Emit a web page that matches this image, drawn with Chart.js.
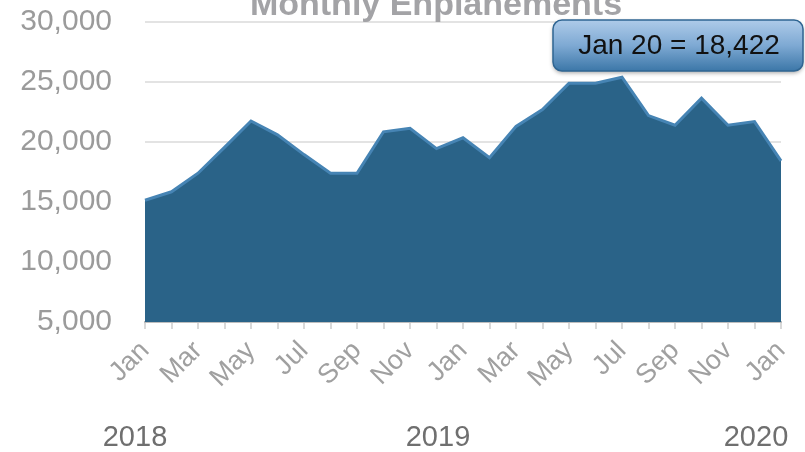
<!DOCTYPE html>
<html>
<head>
<meta charset="utf-8">
<script src="https://cdn.jsdelivr.net/npm/chart.js@4/dist/chart.umd.min.js"></script>
<style>
  html, body { margin: 0; padding: 0; background: #fff; }
  #wrap { width: 805px; height: 452px; position: relative; }
</style>
</head>
<body>
<div id="wrap"><canvas id="chart" width="805" height="452"></canvas></div>
<script>
var months = ['Jan','Feb','Mar','Apr','May','Jun','Jul','Aug','Sep','Oct','Nov','Dec',
              'Jan','Feb','Mar','Apr','May','Jun','Jul','Aug','Sep','Oct','Nov','Dec','Jan'];
var enplanements = [15150, 15850, 17400, 19550, 21750, 20600, 18950, 17400, 17400, 20850, 21150, 19450,
                    20350, 18700, 21300, 22700, 24900, 24900, 25400, 22200, 21400, 23650, 21400, 21700, 18422];
var yearLabels = ['2018', '2019', '2020'];
var yearIndex = [0, 12, 24];
var yTicks = [5000, 10000, 15000, 20000, 25000, 30000];
var chartTitle = 'Monthly Enplanements';
var calloutText = 'Jan 20 = 18,422';

var font = 'Arial, "Liberation Sans", sans-serif';

// title, year row and the callout box
var extras = {
    id: 'extras',
    afterDraw: function(chart) {
        var ctx = chart.ctx;
        var x = chart.scales.x;
        ctx.save();

        ctx.fillStyle = '#a3a3a6';
        ctx.font = 'bold 34px ' + font;
        ctx.textAlign = 'center';
        ctx.textBaseline = 'alphabetic';
        ctx.fillText(chartTitle, 436, 15);

        ctx.fillStyle = '#6f6f6f';
        ctx.font = '29px ' + font;
        ctx.textBaseline = 'middle';
        var offs = [-10, -25, -25];
        yearLabels.forEach(function(y, i) {
            ctx.fillText(y, x.getPixelForValue(yearIndex[i]) + offs[i], 438);
        });

        // callout
        var bx = 553, by = 20, bw = 250, bh = 51;
        ctx.shadowColor = 'rgba(0,0,0,0.35)';
        ctx.shadowBlur = 4;
        ctx.shadowOffsetY = 2;
        var g = ctx.createLinearGradient(0, by, 0, by + bh);
        g.addColorStop(0, '#aecbe9');
        g.addColorStop(0.5, '#7ea9d3');
        g.addColorStop(1, '#3c77a8');
        ctx.fillStyle = g;
        ctx.beginPath();
        ctx.roundRect(bx, by, bw, bh, 9);
        ctx.fill();
        ctx.shadowColor = 'transparent';
        ctx.strokeStyle = '#2f6592';
        ctx.lineWidth = 1.5;
        ctx.stroke();
        ctx.fillStyle = '#111';
        ctx.font = '28px ' + font;
        ctx.textAlign = 'center';
        ctx.fillText(calloutText, bx + bw / 2 + 1, by + bh / 2 + 1);
        ctx.restore();
    }
};

new Chart(document.getElementById('chart'), {
    type: 'line',
    data: {
        labels: months,
        datasets: [{
            label: 'Enplanements',
            data: enplanements,
            fill: 'start',
            backgroundColor: '#2a6388',
            borderColor: '#4684b4',
            borderWidth: 3,
            pointRadius: 0,
            tension: 0
        }]
    },
    options: {
        responsive: false,
        animation: false,
        layout: { padding: { top: 22, right: 24, left: 0, bottom: 0 } },
        plugins: {
            legend: { display: false },
            tooltip: { enabled: false }
        },
        scales: {
            x: {
                offset: false,
                grid: { display: true, drawOnChartArea: false, drawTicks: true, tickLength: 7, color: '#d9d9d9', lineWidth: 2 },
                border: { display: true, color: '#bdbdbd', width: 2 },
                ticks: {
                    autoSkip: false,
                    minRotation: 45,
                    maxRotation: 45,
                    padding: 6,
                    color: '#a0a0a0',
                    font: { family: font, size: 27 },
                    callback: function(v, i) { return i % 2 === 0 ? months[i] : ''; }
                },
                afterFit: function(s) { s.height = 130; s.paddingLeft = 0; s.paddingRight = 0; }
            },
            y: {
                min: 5000,
                max: 30000,
                afterBuildTicks: function(s) { s.ticks = yTicks.map(function(v) { return { value: v }; }); },
                grid: { color: '#e3e3e3', lineWidth: 2, drawTicks: false },
                border: { display: false },
                ticks: {
                    padding: 33,
                    color: '#9b9b9b',
                    font: { family: font, size: 30 },
                    callback: function(v) { return v.toLocaleString('en-US'); }
                },
                afterFit: function(s) { s.width = 145; s.paddingTop = 0; s.paddingBottom = 0; }
            }
        }
    },
    plugins: [extras]
});
</script>
</body>
</html>
